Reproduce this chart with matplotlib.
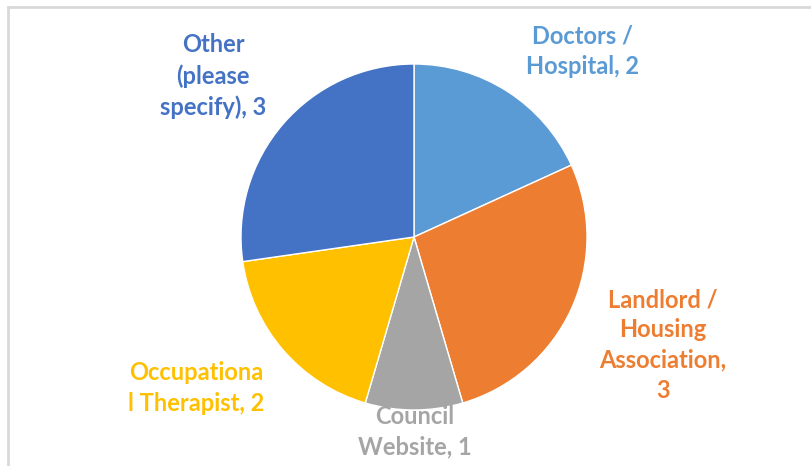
import matplotlib
matplotlib.use("Agg")
import matplotlib.pyplot as plt
from matplotlib.lines import Line2D

W, H = 812, 466

values = [2, 3, 1, 2, 3]
colors = ["#5B9BD5", "#ED7D31", "#A5A5A5", "#FFC000", "#4472C4"]
label_text = ["Doctors /\nHospital, 2", "Landlord /\nHousing\nAssociation,\n3",
              "Council\nWebsite, 1", "Occupationa\nl Therapist, 2", "Other\n(please\nspecify), 3"]
# label centres in pixel coords (x, y from top)
label_pos = [(583, 51), (663, 345), (415, 432), (196, 388), (213, 76)]

plt.rcParams["font.family"] = ["Lato", "DejaVu Sans"]

fig = plt.figure(figsize=(W / 100, H / 100), dpi=100)
ax = fig.add_axes([0, 0, 1, 1])

cx, cy, r = 414, H - 237, 173
ax.pie(values, colors=colors, startangle=90, counterclock=False,
       center=(cx, cy), radius=r, frame=True,
       wedgeprops=dict(edgecolor="white", linewidth=1.0))
ax.set_xlim(0, W)
ax.set_ylim(0, H)
ax.set_aspect("auto")
ax.axis("off")

for txt, (x, y), c in zip(label_text, label_pos, colors):
    ax.text(x, H - y, txt, color=c, fontsize=17, fontweight="bold",
            ha="center", va="center", linespacing=1.38)

# chart frame (top and left edges visible)
fig.add_artist(Line2D([7.5 / W, 7.5 / W], [0, 1 - 6.5 / H], color="#d9d9d9", lw=2,
                      transform=fig.transFigure))
fig.add_artist(Line2D([7.5 / W, 1], [1 - 6.5 / H, 1 - 6.5 / H], color="#d9d9d9", lw=2,
                      transform=fig.transFigure))

fig.savefig("out.png", dpi=100)
